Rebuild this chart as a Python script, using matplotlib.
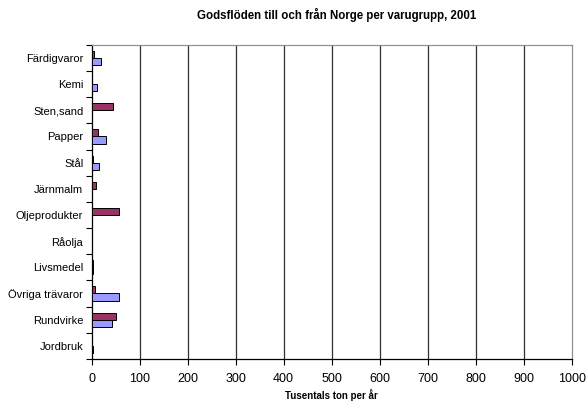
import numpy as np
import matplotlib.pyplot as plt

plt.rcParams['font.family'] = ['Liberation Sans', 'DejaVu Sans']

# varugrupper, nerifrån och upp
grupper = ['Jordbruk', 'Rundvirke', 'Övriga trävaror', 'Livsmedel', 'Råolja',
           'Oljeprodukter', 'Järnmalm', 'Stål', 'Papper', 'Sten,sand',
           'Kemi', 'Färdigvaror']
# tusentals ton per år
serie_a = [1, 50, 7, 3, 0, 58, 10, 2, 13, 45, 0, 5]   # lila
serie_b = [2, 43, 58, 2, 0, 0, 0, 15, 31, 1, 11, 19]  # blå

fig = plt.figure(figsize=(5.87, 4.01), dpi=100)
ax = fig.add_axes([0.156, 0.105, 0.818, 0.783])

y = np.arange(len(grupper))
h = 0.27
ax.barh(y + h / 2, serie_a, height=h, color='#993366', edgecolor='black', linewidth=0.7, zorder=3)
ax.barh(y - h / 2, serie_b, height=h, color='#9999FF', edgecolor='black', linewidth=0.7, zorder=3)

ax.set_xlim(0, 1000)
ax.set_ylim(-0.5, len(grupper) - 0.5)
ax.set_xticks(np.arange(0, 1001, 100))
for v in range(100, 1000, 100):
    ax.axvline(v, color='#303030', linewidth=0.9, zorder=1)

ax.set_yticks(y)
ax.set_yticklabels(grupper, fontsize=8)
ax.set_yticks(np.arange(-0.5, len(grupper), 1), minor=True)
ax.tick_params(axis='y', which='major', length=0, pad=6)
ax.tick_params(axis='y', which='minor', length=4, direction='out', width=0.8)
ax.tick_params(axis='x', length=4, direction='out', width=0.8, labelsize=9, pad=6)

for s in ['left', 'bottom']:
    ax.spines[s].set_color('black')
    ax.spines[s].set_linewidth(0.9)
for s in ['top', 'right']:
    ax.spines[s].set_color('#909090')
    ax.spines[s].set_linewidth(0.9)

ax.set_xlabel('Tusentals ton per år', fontsize=7, fontweight='bold', labelpad=3)
fig.text(0.574, 0.962, 'Godsflöden till och från Norge per varugrupp, 2001',
         fontsize=8.3, fontweight='bold', ha='center', va='center')

fig.savefig('out.png', dpi=100)
